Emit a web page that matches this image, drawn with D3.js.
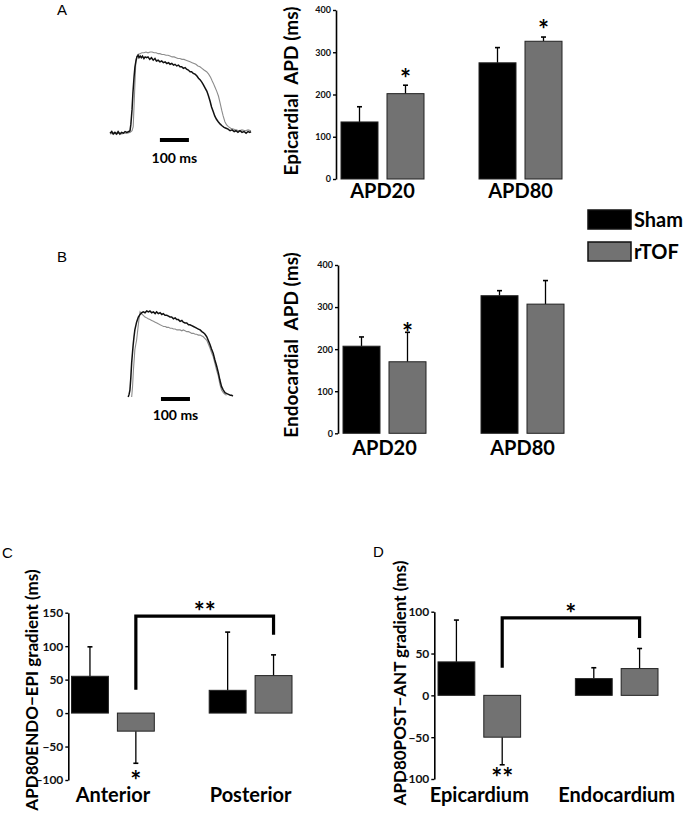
<!DOCTYPE html>
<html>
<head>
<meta charset="utf-8">
<script src="https://cdn.jsdelivr.net/npm/d3@7"></script>
<style>
  body { margin: 0; background: #fff; }
  svg { display: block; font-family: Lato, 'Open Sans', sans-serif; }
</style>
</head>
<body>
<svg id="fig" width="687" height="817"></svg>
<script>
//

const series = ['Sham', 'rTOF']
const apdGroups = ['APD20', 'APD80']
const regionGroups = ['Anterior', 'Posterior']
const layerGroups = ['Epicardium', 'Endocardium']

// panel A / B bar values (ms) and SD
const epiSham = [135, 275]
const epiShamSd = [36, 36]
const epiTof = [202, 326]
const epiTofSd = [20, 10]

const endoSham = [207, 327]
const endoShamSd = [22, 12]
const endoTof = [170, 307]
const endoTofSd = [70, 56]

// panel C / D gradients (ms) and SD
const gradEndoEpiSham = [55, 34]
const gradEndoEpiShamSd = [44, 87]
const gradEndoEpiTof = [-27, 56]
const gradEndoEpiTofSd = [48, 31]

const gradPostAntSham = [40, 20]
const gradPostAntShamSd = [50, 13]
const gradPostAntTof = [-50, 32]
const gradPostAntTofSd = [33, 24]

const apdTicks = [0, 100, 200, 300, 400]
const gradTicksC = [-100, -50, 0, 50, 100, 150]
const gradTicksD = [-100, -50, 0, 50, 100]

// action potential traces: [time (ms), amplitude (%)]
const epiTraceSham = [[0,1],[6,3],[11,0],[17,2],[23,0],[28,3],[34,0],[40,2],[46,1],[52,3],[58,2],[65,3],[69,4],[72,12],[76,30],[79,50],[83,70],[86,82],[90,90],[93,94],[97,96],[100,93],[104,95],[108,93],[112,95],[117,92],[121,94],[126,93],[131,94],[137,91],[143,93],[149,90],[155,92],[160,89],[166,90],[172,88],[178,89],[184,87],[190,88],[196,86],[202,87],[207,85],[213,86],[219,84],[224,85],[230,83],[236,84],[241,82],[247,82],[253,80],[259,81],[264,79],[270,78],[276,76],[281,76],[287,74],[293,73],[299,71],[305,68],[311,66],[317,63],[322,60],[328,56],[334,52],[339,47],[345,40],[350,33],[356,27],[361,22],[367,18],[373,15],[380,12],[386,10],[393,8],[400,7],[407,6],[414,4],[421,5],[428,3],[434,4],[441,2],[448,4],[455,2],[462,3],[469,1],[476,3],[482,2],[486,3]]
const epiTraceTof = [[0,0],[10,1],[20,0],[30,1],[40,0],[50,1],[60,1],[70,2],[76,4],[80,9],[83,35],[86,62],[89,88],[92,94],[96,97],[103,98],[110,99],[117,99],[124,100],[131,99],[138,100],[145,100],[152,99],[159,99],[166,98],[172,98],[179,97],[186,97],[193,96],[200,96],[207,95],[214,94],[221,94],[228,93],[234,92],[241,92],[248,91],[255,91],[262,90],[269,89],[276,88],[283,87],[290,86],[296,85],[303,83],[310,82],[317,80],[324,78],[333,76],[340,73],[347,69],[352,65],[356,62],[362,57],[368,52],[374,46],[380,37],[385,29],[390,22],[396,15],[402,11],[408,9],[416,7],[425,6],[434,5],[445,4],[455,5],[466,4],[476,5],[486,4]]

const endoTraceSham = [[11,0],[14,3],[17,8],[20,22],[23,40],[26,52],[28,60],[31,70],[34,78],[40,87],[46,93],[52,96],[58,98],[63,99],[69,98],[75,100],[81,99],[86,100],[92,98],[98,99],[104,97],[109,99],[115,97],[121,98],[127,96],[132,97],[138,95],[144,95],[150,94],[155,93],[161,93],[167,91],[173,92],[178,90],[184,90],[190,88],[196,89],[201,87],[207,86],[213,86],[219,84],[224,84],[230,83],[236,82],[242,81],[247,80],[253,79],[259,78],[265,76],[270,75],[276,73],[282,70],[287,66],[293,61],[298,56],[304,51],[310,43],[316,36],[322,28],[327,20],[333,12],[339,8],[345,5],[351,4],[357,3],[363,2],[368,2],[372,1]]
const endoTraceTof = [[23,0],[26,12],[29,31],[32,45],[34,55],[37,61],[40,66],[44,78],[48,90],[52,99],[57,97],[63,95],[69,93],[75,92],[80,91],[86,90],[92,89],[98,88],[104,87],[110,86],[116,85],[121,84],[127,83],[133,82],[139,82],[144,81],[150,81],[156,80],[162,80],[167,79],[173,79],[179,78],[185,78],[190,78],[196,77],[201,78],[207,77],[213,76],[219,76],[225,75],[230,74],[236,74],[242,73],[247,73],[253,72],[259,72],[265,71],[270,70],[276,68],[282,66],[287,62],[293,57],[298,52],[304,47],[310,39],[316,31],[322,24],[327,15],[333,8],[339,5],[345,3],[350,2]]

//

const colors = { Sham: '#000000', rTOF: '#727272' }
const svg = d3.select('#fig')
const starFont = 26

const rows = (groups, sham, shamSd, tof, tofSd) => groups.map((g, i) => ({
  group: g,
  bars: [
    { series: 'Sham', value: sham[i], sd: shamSd[i] },
    { series: 'rTOF', value: tof[i], sd: tofSd[i] }
  ]
}))

//

function tracePanel (opt) {
  const g = svg.append('g')
  const x = d3.scaleLinear().domain(opt.tDomain).range(opt.xRange)
  const y = d3.scaleLinear().domain([0, 100]).range(opt.yRange)
  const line = d3.line().x((d) => x(d[0])).y((d) => y(d[1]))

  g.append('path').datum(opt.tof)
    .attr('d', line).attr('fill', 'none')
    .attr('stroke', '#8c8c8c').attr('stroke-width', 1.1)
  g.append('path').datum(opt.sham)
    .attr('d', line).attr('fill', 'none')
    .attr('stroke', '#111').attr('stroke-width', 1.5)

  // 100 ms scale bar
  g.append('line')
    .attr('x1', x(opt.barStart)).attr('x2', x(opt.barStart + 100))
    .attr('y1', opt.barY).attr('y2', opt.barY)
    .attr('stroke', '#000').attr('stroke-width', 4)
  g.append('text')
    .attr('x', (x(opt.barStart) + x(opt.barStart + 100)) / 2)
    .attr('y', opt.barY + opt.textGap)
    .attr('text-anchor', 'middle')
    .attr('font-size', 14).attr('font-weight', 700)
    .text('100 ms')
}

function barPanel (opt) {
  const g = svg.append('g')
  const x0 = d3.scaleBand().domain(opt.groups).range(opt.xRange)
    .paddingInner(0.3986).paddingOuter(0)
  const x1 = d3.scaleBand().domain(series).range([0, x0.bandwidth()])
    .paddingInner(0.1957)
  const y = d3.scaleLinear().domain(opt.domain).range(opt.yRange)
  const cx = (grp, s) => x0(grp) + x1(s) + x1.bandwidth() / 2

  // axis
  const axis = g.append('g')
    .attr('transform', `translate(${opt.axisX},0)`)
    .call(d3.axisLeft(y).tickValues(opt.ticks).tickSizeInner(3).tickSizeOuter(0).tickPadding(2))
  axis.select('.domain').attr('stroke-width', 1.6)
  axis.selectAll('.tick line').attr('stroke-width', 1.4)
  axis.selectAll('text')
    .attr('font-family', "Lato, 'Open Sans', sans-serif")
    .attr('font-size', opt.tickFont).attr('font-weight', 700)
    .attr('fill', '#111')

  const grp = g.selectAll('.grp').data(opt.data).join('g').attr('class', 'grp')
  const bar = grp.selectAll('.bar').data((d) => d.bars.map((b) => Object.assign({ group: d.group }, b)))
    .join('g').attr('class', 'bar')

  // error bars (one sided, away from zero)
  bar.append('line')
    .attr('x1', (d) => cx(d.group, d.series)).attr('x2', (d) => cx(d.group, d.series))
    .attr('y1', (d) => y(d.value))
    .attr('y2', (d) => y(d.value + Math.sign(d.value) * d.sd))
    .attr('stroke', '#000').attr('stroke-width', 1.3)
  bar.append('line')
    .attr('x1', (d) => cx(d.group, d.series) - 2.5).attr('x2', (d) => cx(d.group, d.series) + 2.5)
    .attr('y1', (d) => y(d.value + Math.sign(d.value) * d.sd))
    .attr('y2', (d) => y(d.value + Math.sign(d.value) * d.sd))
    .attr('stroke', '#000').attr('stroke-width', 1.6)

  bar.append('rect')
    .attr('x', (d) => x0(d.group) + x1(d.series))
    .attr('width', x1.bandwidth())
    .attr('y', (d) => Math.min(y(0), y(d.value)))
    .attr('height', (d) => Math.abs(y(0) - y(d.value)))
    .attr('fill', (d) => colors[d.series])
    .attr('stroke', '#222').attr('stroke-width', 1)

  // group labels
  g.selectAll('.glabel').data(opt.groups).join('text')
    .attr('class', 'glabel')
    .attr('x', (d) => x0(d) + x0.bandwidth() / 2)
    .attr('y', opt.labelY)
    .attr('text-anchor', 'middle')
    .attr('font-size', opt.labelFont).attr('font-weight', 700)
    .text((d) => d)

  // y title
  g.append('text')
    .attr('transform', `translate(${opt.titleX},${opt.titleY}) rotate(-90)`)
    .attr('text-anchor', 'middle')
    .attr('font-size', opt.titleFont).attr('font-weight', 700)
    .attr('xml:space', 'preserve')
    .text(opt.title)

  // significance marks (value = centre of the asterisk)
  ;(opt.stars || []).forEach((s) => {
    g.append('text')
      .attr('x', cx(s.group, s.series)).attr('y', y(s.value) + 15)
      .attr('text-anchor', 'middle')
      .attr('font-size', starFont).attr('font-weight', 700)
      .text(s.text)
  })

  ;(opt.brackets || []).forEach((b) => {
    const xa = cx(b.from[0], b.from[1])
    const xb = cx(b.to[0], b.to[1])
    g.append('path')
      .attr('d', `M${xa},${y(b.fromEnd)}V${y(b.top)}H${xb}V${y(b.toEnd)}`)
      .attr('fill', 'none').attr('stroke', '#000').attr('stroke-width', 3.2)
    g.append('text')
      .attr('x', (xa + xb) / 2).attr('y', y(b.top) + 5)
      .attr('text-anchor', 'middle')
      .attr('font-size', starFont).attr('font-weight', 700)
      .text(b.text)
  })
}

//

const panelLetter = (t, x, y) => svg.append('text')
  .attr('x', x).attr('y', y)
  .attr('font-family', "'Liberation Sans', Arial, sans-serif")
  .attr('font-size', 15)
  .text(t)

panelLetter('A', 57, 15)
panelLetter('B', 57, 262)
panelLetter('C', 2, 558)
panelLetter('D', 373, 557)

tracePanel({ tDomain: [0, 486], xRange: [110, 251], yRange: [134, 52],
  sham: epiTraceSham, tof: epiTraceTof, barStart: 172, barY: 140, textGap: 23 })
tracePanel({ tDomain: [0, 380], xRange: [125, 235.2], yRange: [397, 311],
  sham: endoTraceSham, tof: endoTraceTof, barStart: 124, barY: 399, textGap: 21 })

barPanel({
  groups: apdGroups,
  data: rows(apdGroups, epiSham, epiShamSd, epiTof, epiTofSd),
  xRange: [341, 562], domain: [0, 400], yRange: [179, 10], axisX: 336,
  ticks: apdTicks, tickFont: 9, labelY: 198, labelFont: 20,
  title: 'Epicardial  APD (ms)', titleX: 298, titleY: 91, titleFont: 19,
  stars: [
    { group: 'APD20', series: 'rTOF', value: 251, text: '*' },
    { group: 'APD80', series: 'rTOF', value: 366, text: '*' }
  ]
})

barPanel({
  groups: apdGroups,
  data: rows(apdGroups, endoSham, endoShamSd, endoTof, endoTofSd),
  xRange: [343, 564], domain: [0, 400], yRange: [433.3, 265], axisX: 338,
  ticks: apdTicks, tickFont: 9, labelY: 455, labelFont: 20,
  title: 'Endocardial  APD (ms)', titleX: 298, titleY: 345, titleFont: 19,
  stars: [
    { group: 'APD20', series: 'rTOF', value: 252, text: '*' }
  ]
})

barPanel({
  groups: regionGroups,
  data: rows(regionGroups, gradEndoEpiSham, gradEndoEpiShamSd, gradEndoEpiTof, gradEndoEpiTofSd),
  xRange: [71.5, 292], domain: [-100, 150], yRange: [780, 612.7], axisX: 68.3,
  ticks: gradTicksC, tickFont: 12, labelY: 802, labelFont: 20,
  title: 'APD80ENDO\u2212EPI gradient (ms)', titleX: 38, titleY: 690, titleFont: 17,
  stars: [
    { group: 'Anterior', series: 'rTOF', value: -92, text: '*' }
  ],
  brackets: [
    { from: ['Anterior', 'rTOF'], to: ['Posterior', 'rTOF'], fromEnd: 35, toEnd: 117, top: 145, text: '**' }
  ]
})

barPanel({
  groups: layerGroups,
  data: rows(layerGroups, gradPostAntSham, gradPostAntShamSd, gradPostAntTof, gradPostAntTofSd),
  xRange: [438, 658], domain: [-100, 100], yRange: [779, 611.7], axisX: 434.3,
  ticks: gradTicksD, tickFont: 12, labelY: 802, labelFont: 20,
  title: 'APD80POST\u2212ANT gradient (ms)', titleX: 406, titleY: 683, titleFont: 17,
  stars: [
    { group: 'Epicardium', series: 'rTOF', value: -92, text: '**' }
  ],
  brackets: [
    { from: ['Epicardium', 'rTOF'], to: ['Endocardium', 'rTOF'], fromEnd: 33, toEnd: 68.6, top: 92.6, text: '*' }
  ]
})

// legend
const legend = svg.append('g').selectAll('g').data(series).join('g')
  .attr('transform', (d, i) => `translate(588,${210 + i * 32})`)
legend.append('rect')
  .attr('width', 43).attr('height', 19)
  .attr('fill', (d) => colors[d]).attr('stroke', '#111').attr('stroke-width', 1.5)
legend.append('text')
  .attr('x', 46).attr('y', 17)
  .attr('font-size', 20).attr('font-weight', 700)
  .text((d) => d)
</script>
</body>
</html>
